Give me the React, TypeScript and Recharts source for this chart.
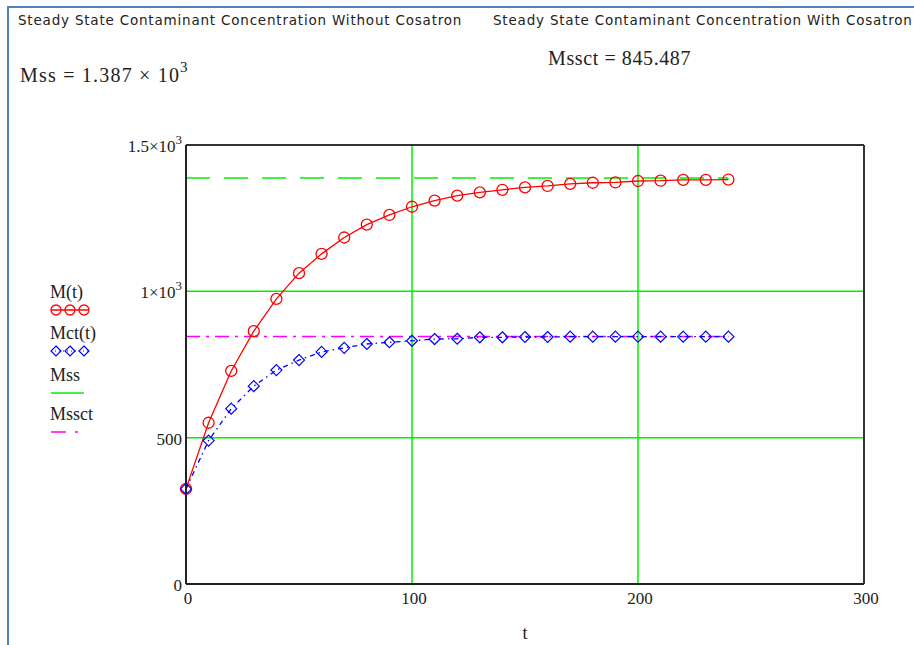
import { ComposedChart, Line, XAxis, YAxis, ReferenceLine } from "recharts"

// t values, step 10 (minutes)
const times = [0, 10, 20, 30, 40, 50, 60, 70, 80, 90, 100, 110, 120, 130, 140, 150, 160, 170, 180, 190, 200, 210, 220, 230, 240]

// M(t) without cosatron
const mValues = [325, 551, 728, 864, 974, 1062, 1128, 1184, 1228, 1261, 1289, 1310, 1327, 1338, 1347, 1355, 1360, 1367, 1371, 1372, 1377, 1378, 1381, 1381, 1382]

// Mct(t) with cosatron
const mctValues = [325, 490, 599, 676, 731, 765, 793, 807, 820, 826, 831, 837, 838, 843, 843, 844, 844, 845, 845, 845, 845, 845, 845, 845, 845]

const MSS = 1387
const MSSCT = 845.487

const xTicks = [0, 100, 200, 300]
const yTicks = [0, 500, 1000, 1500]
const xGrid = [100, 200]
const yGrid = [500, 1000]

const data = times.map((t, i) => ({ t, M: mValues[i], Mct: mctValues[i], Mss: MSS, Mssct: MSSCT }))

const serif = "'Liberation Serif', 'Times New Roman', serif"
const sans = "'DejaVu Sans', Verdana, sans-serif"
const GREEN = "#00f000"

function YTick({ x, y, payload }: any) {
  const v = payload.value as number
  const common = { fontFamily: serif, fontSize: 17, fill: "#222" }
  if (v === 1000 || v === 1500) {
    const mant = v === 1000 ? "1" : "1.5"
    return (
      <text x={x + 4} y={y} dy={7} textAnchor="end" {...common}>
        {mant}×10<tspan dy={-8} fontSize={13}>3</tspan>
      </text>
    )
  }
  return (
    <text x={x + 4} y={y} dy={7} textAnchor="end" {...common}>
      {v}
    </text>
  )
}

function XTick({ x, y, payload }: any) {
  return (
    <text x={x + 2} y={y} dy={12} textAnchor="middle" fontFamily={serif} fontSize={17} fill="#222">
      {payload.value}
    </text>
  )
}

function Diamond({ cx, cy }: any) {
  if (cx == null || cy == null) return null
  return (
    <path
      d={`M${cx},${cy - 5.5} L${cx + 5.5},${cy} L${cx},${cy + 5.5} L${cx - 5.5},${cy} Z`}
      fill="none"
      stroke="#0000ff"
      strokeWidth={1.2}
    />
  )
}

function LegendItem({ label, top, children }: { label: string; top: number; children: any }) {
  return (
    <div style={{ position: "absolute", left: 50, top }}>
      <div style={{ fontFamily: serif, fontSize: 18, color: "#222", lineHeight: "18px" }}>{label}</div>
      <svg width={50} height={12} style={{ display: "block", marginTop: 3 }}>
        {children}
      </svg>
    </div>
  )
}

const titleStyle = {
  position: "absolute" as const,
  top: 12,
  fontFamily: sans,
  fontSize: 13.5,
  letterSpacing: 0.8,
  color: "#222",
  whiteSpace: "nowrap" as const,
}

export default function App() {
  return (
    <div style={{ position: "absolute", left: 0, top: 0, width: 914, height: 645, background: "#fff", overflow: "hidden" }}>
      {/* frame */}
      <div style={{ position: "absolute", left: 7, top: 6, width: 907, height: 639, borderLeft: "2px solid #4f81bd", borderTop: "2px solid #4f81bd" }} />

      <div style={{ ...titleStyle, left: 18 }}>Steady State Contaminant Concentration Without Cosatron</div>
      <div style={{ ...titleStyle, left: 493 }}>Steady State Contaminant Concentration With Cosatron</div>
      <div style={{ position: "absolute", left: 20, top: 61, fontFamily: serif, fontSize: 20, letterSpacing: 1.2, color: "#222", whiteSpace: "nowrap" }}>
        Mss = 1.387 × 10<sup style={{ fontSize: 15, position: "relative", top: -2 }}>3</sup>
      </div>
      <div style={{ position: "absolute", left: 548, top: 47, fontFamily: serif, fontSize: 20, letterSpacing: 0.6, color: "#222", whiteSpace: "nowrap" }}>
        Mssct = 845.487
      </div>

      <ComposedChart
        width={914}
        height={645}
        data={data}
        margin={{ top: 145, right: 50, bottom: 0, left: 0 }}
        style={{ position: "absolute", left: 0, top: 0 }}
      >
        <XAxis
          dataKey="t"
          type="number"
          domain={[0, 300]}
          ticks={xTicks}
          height={61}
          tickLine={false}
          axisLine={{ stroke: "#222", strokeWidth: 2 }}
          tick={<XTick />}
          label={{ value: "t", position: "insideBottom", offset: 6, fontFamily: serif, fontSize: 18, fill: "#222" }}
        />
        <YAxis
          type="number"
          domain={[0, 1500]}
          ticks={yTicks}
          width={186}
          tickLine={false}
          axisLine={{ stroke: "#222", strokeWidth: 2 }}
          tick={<YTick />}
        />
        {xGrid.map((v) => (
          <ReferenceLine key={"x" + v} x={v} stroke={GREEN} strokeWidth={1.5} />
        ))}
        {yGrid.map((v) => (
          <ReferenceLine key={"y" + v} y={v} stroke={GREEN} strokeWidth={1.5} />
        ))}
        <ReferenceLine y={1500} stroke="#333" strokeWidth={2} />
        <ReferenceLine x={300} stroke="#333" strokeWidth={2} />

        <Line dataKey="Mss" stroke={GREEN} strokeWidth={1.5} strokeDasharray="24 14" dot={false} isAnimationActive={false} />
        <Line dataKey="Mssct" stroke="#ff00ff" strokeWidth={1.5} strokeDasharray="14 6 3 6" dot={false} isAnimationActive={false} />
        <Line
          dataKey="M"
          stroke="#ff0000"
          strokeWidth={1.3}
          dot={{ r: 5.5, stroke: "#ff0000", fill: "none", strokeWidth: 1.3 }}
          isAnimationActive={false}
        />
        <Line
          dataKey="Mct"
          stroke="#0000ff"
          strokeWidth={1.3}
          strokeDasharray="5 4 1.5 4"
          dot={<Diamond />}
          isAnimationActive={false}
        />
      </ComposedChart>

      <LegendItem label="M(t)" top={283}>
        {[6, 20, 34].map((cx) => (
          <circle key={cx} cx={cx} cy={6} r={5} fill="none" stroke="#ff0000" strokeWidth={1.3} />
        ))}
        <line x1={1} y1={6} x2={39} y2={6} stroke="#ff0000" strokeWidth={1.3} />
      </LegendItem>
      <LegendItem label="Mct(t)" top={324}>
        {[6, 20, 34].map((cx) => (
          <path key={cx} d={`M${cx},1 L${cx + 5},6 L${cx},11 L${cx - 5},6 Z`} fill="none" stroke="#0000ff" strokeWidth={1.2} />
        ))}
        <line x1={1} y1={6} x2={39} y2={6} stroke="#0000ff" strokeWidth={1.2} strokeDasharray="1 3" />
      </LegendItem>
      <LegendItem label="Mss" top={366}>
        <line x1={1} y1={6} x2={34} y2={6} stroke={GREEN} strokeWidth={1.5} />
      </LegendItem>
      <LegendItem label="Mssct" top={405}>
        <line x1={1} y1={6} x2={37} y2={6} stroke="#ff00ff" strokeWidth={1.5} strokeDasharray="15 9 3 20" />
      </LegendItem>
    </div>
  )
}
